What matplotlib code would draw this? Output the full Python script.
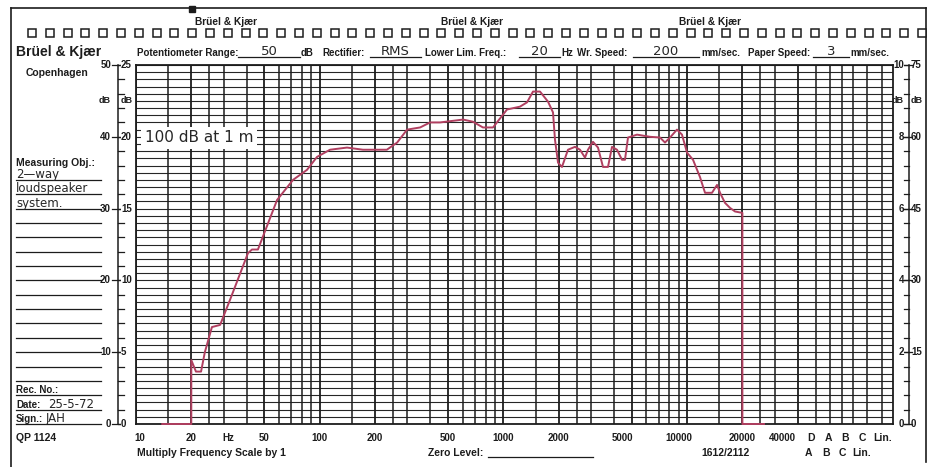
import matplotlib.pyplot as plt
import numpy as np
from matplotlib.transforms import blended_transform_factory as blend, offset_copy

W, H = 934, 467

# frequency response (50 dB pot range)
freq = [13.9, 20, 20, 21.2, 22.6, 23.7, 25.9, 28.7, 32.5, 40.7, 42.8, 46.1,
        58.6, 71.6, 85.3, 96.7, 113.8, 140.8, 172, 232, 264, 299, 352, 399,
        452, 603, 683, 774, 878, 1046, 1231, 1345, 1449, 1582, 1749, 1862,
        1909, 1983, 2084, 2247, 2454, 2612, 2781, 2887, 3074, 3273, 3485,
        3710, 3902, 4153, 4422, 4590, 4768, 5338, 6281, 7120, 7580, 8070,
        8810, 9380, 9990, 10770, 11750, 12520, 13660, 14550, 15110, 16080,
        17120, 18230, 20000, 20000, 26200]
level = [0, 0, 8.9, 7.3, 7.3, 10.0, 13.5, 13.8, 17.3, 23.8, 24.3, 24.3,
         31.2, 34.0, 35.4, 37.2, 38.2, 38.5, 38.2, 38.2, 39.2, 41.0, 41.3, 42.0,
         42.0, 42.4, 42.1, 41.3, 41.3, 43.8, 44.2, 44.8, 46.3, 46.3, 44.9, 43.4,
         39.6, 36.4, 35.8, 38.2, 38.6, 38.2, 37.1, 38.2, 39.3, 38.5, 35.8,
         35.8, 38.6, 38.2, 36.8, 36.8, 39.9, 40.3, 40.0, 39.9, 39.2, 39.9,
         41.0, 40.3, 37.8, 36.8, 34.4, 32.2, 32.2, 33.3, 32.2, 30.8,
         30.1, 29.6, 29.4, 0, 0]

freq_ticks = [10, 20, 50, 100, 200, 500, 1000, 2000, 5000, 10000, 20000, 40000]
freq_labels = ['10', '20', '50', '100', '200', '500', '1000', '2000', '5000',
               '10000', '20000', '40000']
label_shift = {10: 4, 5000: -9, 10000: -8, 40000: -15}
grid_mult = [1, 1.5, 2, 2.5, 3, 4, 5, 6, 7, 8, 9]
extra_lines = [50000, 60000, 70000, 80000, 95000, 115000]

left_major = [0, 10, 20, 30, 40, 50]
left_inner = ['0', '5', '10', '15', '20', '25']
right_inner = ['0', '2', '4', '6', '8', '10']
right_outer = ['0', '15', '30', '45', '60', '75']

header = [('Potentiometer Range:', 137), ('dB', 301), ('Rectifier:', 322),
          ('Lower Lim. Freq.:', 425), ('Hz', 561), ('Wr. Speed:', 577),
          ('mm/sec.', 701), ('Paper Speed:', 748), ('mm/sec.', 850)]
fillins = [('50', 238, 300), ('RMS', 370, 421), ('20', 519, 560),
           ('200', 633, 699), ('3', 813, 849)]

PR = dict(family=['Liberation Sans Narrow', 'Liberation Sans', 'DejaVu Sans'],
          fontweight='bold', color='#1c1c1c')
HW = dict(family='DejaVu Sans', color='#262626')
INK = '#1c1c1c'
PEN = '#b03f60'

fig = plt.figure(figsize=(W / 100, H / 100), dpi=100)
fig.patch.set_facecolor('white')

bg = fig.add_axes([0, 0, 1, 1])
bg.set_xlim(0, W)
bg.set_ylim(H, 0)
bg.axis('off')

x0, x1, y0, y1 = 136, 893, 65, 424
ax = fig.add_axes([x0 / W, 1 - y1 / H, (x1 - x0) / W, (y1 - y0) / H])
ax.set_xscale('log')
fmax = 10 ** (1 + (x1 - x0) / 183.7)
ax.set_xlim(10, fmax)
ax.set_ylim(0, 50)
ax.tick_params(which='both', length=0, labelbottom=False, labelleft=False)
ax.set_xticks([])
ax.set_yticks([])
ax.minorticks_off()
for s in ax.spines.values():
    s.set_linewidth(1.3)
    s.set_color(INK)

# paper grid
ax.hlines(np.arange(0, 51), 10, fmax, color='#262626', lw=0.8)
vl = [m * 10 ** k for k in range(1, 5) for m in grid_mult if m * 10 ** k <= 40000]
vl += extra_lines
for f in vl:
    ax.axvline(f, color=INK, lw=1.3 if f in freq_ticks else 1.1)

ax.plot(freq, level, color=PEN, lw=1.4, zorder=5, solid_joinstyle='round',
        clip_on=False)

ax.text(145, 138, '100 dB at 1 m', transform=bg.transData, fontsize=11,
        va='center', ha='left', zorder=6,
        bbox=dict(facecolor='white', edgecolor='none', pad=2.5), **HW)

# page frame, sprocket holes
bg.plot([11, 926], [8, 8], color=INK, lw=1.2)
bg.plot([11, 11], [8, 467], color=INK, lw=1.2)
bg.plot([926, 926], [8, 462], color=INK, lw=1.2)
bg.plot([192], [9], 's', ms=4, color=INK)
holes = np.linspace(32, 922, 51)
bg.plot(holes, [33] * len(holes), ls='none', marker='s', ms=5.3, mfc='white',
        mec=INK, mew=1.1)
marks = holes[(holes > x0 + 8) & (holes < x1 - 4)]
bg.plot(marks, [68] * len(marks), ls='none', marker='s', ms=2.6, color=INK)

for xc in (226, 472, 710):
    bg.text(xc, 22, 'Brüel & Kjær', ha='center', va='center', fontsize=7.3, **PR)

bg.text(16, 52, 'Brüel & Kjær', ha='left', va='center', fontsize=10, **PR)
bg.text(57, 73, 'Copenhagen', ha='center', va='center', fontsize=7.5, **PR)
for txt, xp in header:
    bg.text(xp, 53, txt, ha='left', va='center', fontsize=7, **PR)
for txt, xa, xb in fillins:
    bg.plot([xa, xb], [57, 57], color=INK, lw=0.9)
    bg.text((xa + xb) / 2, 55, txt, ha='center', va='baseline', fontsize=9.5, **HW)

# left scale
tl = blend(bg.transData, ax.transData)
bg.plot([118, 118], [0, 50], color=INK, lw=1.1, transform=tl)
for d in range(0, 51, 2):
    bg.plot([118, 124], [d, d], color=INK, lw=0.9, transform=tl)
for d, lab in zip(left_major, left_inner):
    bg.plot([112, 122], [d, d], color=INK, lw=0.9, transform=tl)
    bg.text(111, d, str(d), ha='right', va='center', fontsize=7, transform=tl, **PR)
    bg.text(121, d, lab, ha='left', va='center', fontsize=7, transform=tl,
            bbox=dict(facecolor='white', edgecolor='none', pad=0.3), **PR)
bg.text(111, 45, 'dB', ha='right', va='center', fontsize=6.5, transform=tl, **PR)
bg.text(121, 45, 'dB', ha='left', va='center', fontsize=6.5, transform=tl,
        bbox=dict(facecolor='white', edgecolor='none', pad=0.3), **PR)

# right scale
bg.plot([909, 909], [0, 50], color=INK, lw=1.1, transform=tl)
for d in range(0, 51, 2):
    bg.plot([904, 909], [d, d], color=INK, lw=0.9, transform=tl)
for d, a, b in zip(left_major, right_inner, right_outer):
    bg.plot([904, 912], [d, d], color=INK, lw=0.9, transform=tl)
    bg.text(904, d, a, ha='right', va='center', fontsize=7, transform=tl,
            bbox=dict(facecolor='white', edgecolor='none', pad=0.3), **PR)
    bg.text(911, d, b, ha='left', va='center', fontsize=7, transform=tl, **PR)
bg.text(904, 45, 'dB', ha='right', va='center', fontsize=6.5, transform=tl,
        bbox=dict(facecolor='white', edgecolor='none', pad=0.3), **PR)
bg.text(911, 45, 'dB', ha='left', va='center', fontsize=6.5, transform=tl, **PR)

# left panel form
for d in range(0, 35, 2):
    bg.plot([16, 101], [d, d], color=INK, lw=0.9, transform=tl)
bg.text(16, 163, 'Measuring Obj.:', ha='left', va='center', fontsize=7.5, **PR)
bg.text(16, 34.25, '2—way', ha='left', va='baseline', fontsize=8.5, transform=tl, **HW)
bg.text(16, 32.25, 'loudspeaker', ha='left', va='baseline', fontsize=8.5, transform=tl, **HW)
bg.text(16, 30.25, 'system.', ha='left', va='baseline', fontsize=8.5, transform=tl, **HW)
bg.text(16, 4.25, 'Rec. No.:', ha='left', va='baseline', fontsize=7, transform=tl, **PR)
bg.text(16, 2.25, 'Date:', ha='left', va='baseline', fontsize=7, transform=tl, **PR)
bg.text(48, 2.25, '25-5-72', ha='left', va='baseline', fontsize=8.5, transform=tl, **HW)
bg.text(16, 0.25, 'Sign.:', ha='left', va='baseline', fontsize=7, transform=tl, **PR)
bg.text(46, 0.25, 'JAH', ha='left', va='baseline', fontsize=8.5, transform=tl, **HW)
bg.text(16, 438, 'QP 1124', ha='left', va='center', fontsize=7.5, **PR)

# frequency scale and footer
tb = blend(ax.transData, bg.transData)
for f, lab in zip(freq_ticks, freq_labels):
    tr = offset_copy(tb, fig=fig, x=label_shift.get(f, 0), y=0, units='dots')
    bg.text(f, 438, lab, ha='center', va='center', fontsize=7, transform=tr, **PR)
bg.text(32, 438, 'Hz', ha='center', va='center', fontsize=7, transform=tb, **PR)
bg.text(137, 453, 'Multiply Frequency Scale by 1', ha='left', va='center', fontsize=7.5, **PR)
bg.text(428, 453, 'Zero Level:', ha='left', va='center', fontsize=7.5, **PR)
bg.plot([488, 593], [457, 457], color=INK, lw=0.9)
bg.text(725, 453, '1612/2112', ha='center', va='center', fontsize=7.5, **PR)
for txt, xp in [('D', 811), ('A', 828), ('B', 845), ('C', 862), ('Lin.', 883)]:
    bg.text(xp, 438, txt, ha='center', va='center', fontsize=7.5, **PR)
for txt, xp in [('A', 808), ('B', 826), ('C', 842), ('Lin.', 862)]:
    bg.text(xp, 453, txt, ha='center', va='center', fontsize=7.5, **PR)

fig.savefig('out.png', dpi=100, facecolor='white')
